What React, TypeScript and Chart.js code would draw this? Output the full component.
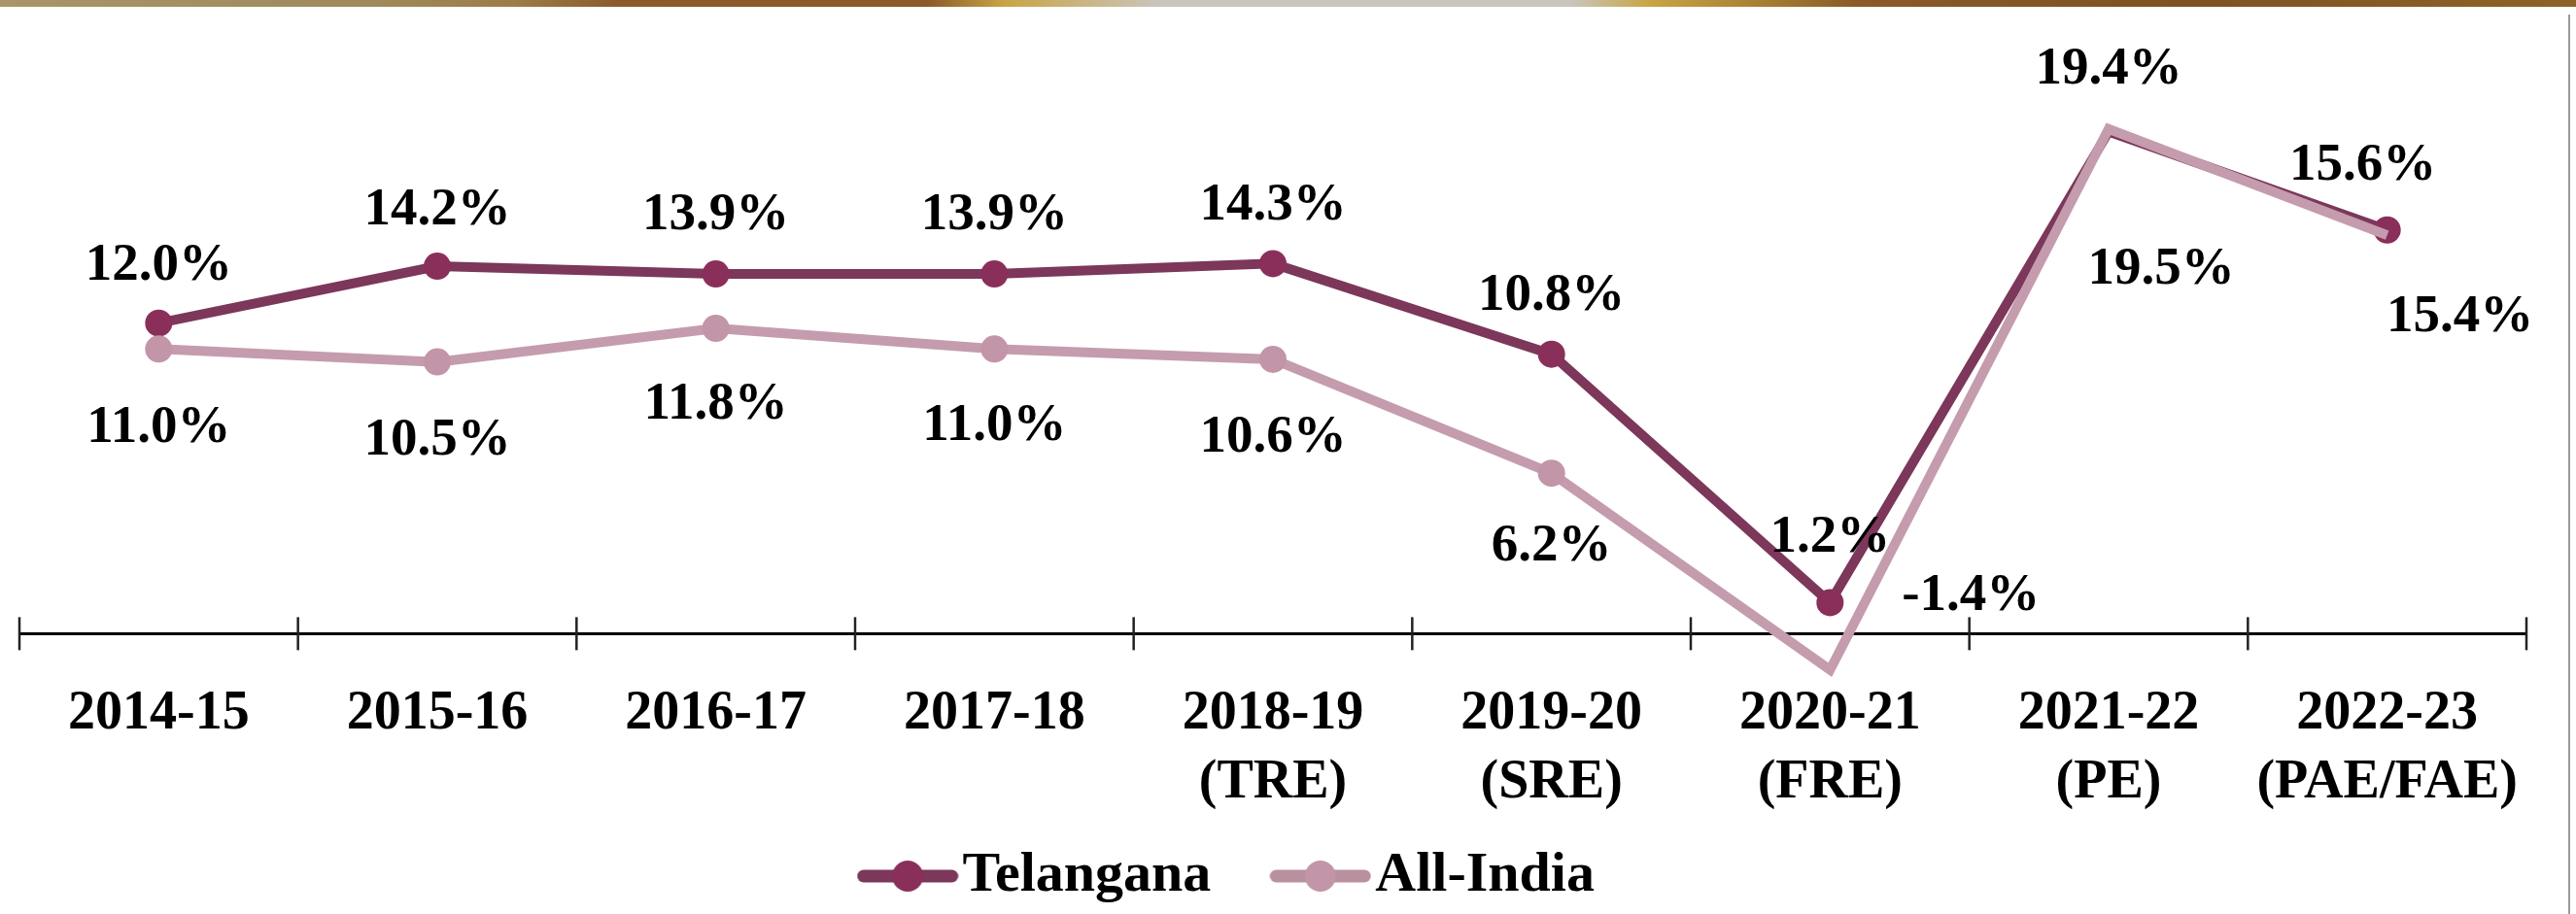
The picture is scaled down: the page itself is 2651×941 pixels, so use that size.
import React, { useEffect, useRef } from "react";
import { Chart, registerables } from "chart.js";

Chart.register(...registerables);

// ---- data ----
const categories: (string | string[])[] = [
  "2014-15",
  "2015-16",
  "2016-17",
  "2017-18",
  ["2018-19", "(TRE)"],
  ["2019-20", "(SRE)"],
  ["2020-21", "(FRE)"],
  ["2021-22", "(PE)"],
  ["2022-23", "(PAE/FAE)"],
];
const telangana = [12.0, 14.2, 13.9, 13.9, 14.3, 10.8, 1.2, 19.4, 15.6];
const allIndia = [11.0, 10.5, 11.8, 11.0, 10.6, 6.2, -1.4, 19.5, 15.4];
const seriesNames = ["Telangana", "All-India"];

// ---- styles ----
const FONT = "'Liberation Serif', 'Times New Roman', serif";
const TEL_LINE = "#7c375a";
const TEL_DOT = "#8a2f5a";
const ALL_LINE = "#c49cad";
const ALL_DOT = "#c295a8";
const telRadius = [14, 14, 14, 14, 14, 14, 14, 0, 14];
const allRadius = [14, 14, 14, 14, 14, 14, 0, 0, 0];
// label placement relative to each point (px)
const telLabelOffset: [number, number][] = [
  [0, -59], [0, -57], [0, -60], [0, -60], [0, -60], [0, -60], [0, -67], [0, -64], [-25, -66],
];
const allLabelOffset: [number, number][] = [
  [0, 81], [0, 81], [0, 79], [0, 79], [0, 81], [0, 76], [145, -76], [54, 145], [75, 85],
];

function makeLegendIcon(lineColor: string, dotColor: string) {
  const c = document.createElement("canvas");
  c.width = 105;
  c.height = 36;
  const g = c.getContext("2d")!;
  g.strokeStyle = lineColor;
  g.lineWidth = 13;
  g.lineCap = "round";
  g.beginPath();
  g.moveTo(7, 18);
  g.lineTo(98, 18);
  g.stroke();
  g.fillStyle = dotColor;
  g.beginPath();
  g.arc(52.5, 18, 16, 0, Math.PI * 2);
  g.fill();
  return c;
}

const crossTicks = {
  id: "crossTicks",
  beforeDatasetsDraw(chart: any) {
    const xs = chart.scales.x;
    const ys = chart.scales.y;
    const y0 = ys.getPixelForValue(0);
    const step = xs.getPixelForValue(1) - xs.getPixelForValue(0);
    const ctx = chart.ctx;
    ctx.save();
    ctx.strokeStyle = "#222";
    ctx.lineWidth = 2.5;
    for (let i = 0; i <= categories.length; i++) {
      const x = xs.getPixelForValue(0) + (i - 0.5) * step;
      ctx.beginPath();
      ctx.moveTo(x, y0 - 17);
      ctx.lineTo(x, y0 + 17);
      ctx.stroke();
    }
    ctx.restore();
  },
};

const valueLabels = {
  id: "valueLabels",
  afterDatasetsDraw(chart: any) {
    const ctx = chart.ctx;
    ctx.save();
    ctx.font = `bold 55px ${FONT}`;
    ctx.fillStyle = "#000";
    ctx.textAlign = "center";
    ctx.textBaseline = "middle";
    const offsets = [telLabelOffset, allLabelOffset];
    chart.data.datasets.forEach((ds: any, di: number) => {
      const meta = chart.getDatasetMeta(di);
      meta.data.forEach((pt: any, i: number) => {
        const v = ds.data[i] as number;
        const [dx, dy] = offsets[di][i];
        ctx.fillText(v.toFixed(1) + "%", pt.x + dx, pt.y + dy);
      });
    });
    ctx.restore();
  },
};

export default function App() {
  const ref = useRef<HTMLCanvasElement>(null);

  useEffect(() => {
    const canvas = ref.current;
    if (!canvas) return;
    const icons = [makeLegendIcon(TEL_LINE, TEL_DOT), makeLegendIcon("#b9909f", ALL_DOT)];
    // trailing spaces keep the centred legend slightly left, as in the source
    const legendText = [seriesNames[0], seriesNames[1] + "     "];
    const chart = new Chart(canvas, {
      type: "line",
      data: {
        labels: categories as any,
        datasets: [
          {
            label: seriesNames[0],
            data: telangana,
            borderColor: TEL_LINE,
            backgroundColor: TEL_DOT,
            pointBackgroundColor: TEL_DOT,
            pointBorderWidth: 0,
            pointRadius: telRadius,
            borderWidth: 10,
            tension: 0,
            order: 1,
          },
          {
            label: seriesNames[1],
            data: allIndia,
            borderColor: ALL_LINE,
            backgroundColor: ALL_DOT,
            pointBackgroundColor: ALL_DOT,
            pointBorderWidth: 0,
            pointRadius: allRadius,
            borderWidth: 10,
            tension: 0,
            order: 0,
          },
        ],
      },
      options: {
        responsive: false,
        animation: false,
        devicePixelRatio: 1,
        layout: { padding: { left: 20, right: 51, top: 0, bottom: 0 } },
        scales: {
          x: {
            type: "category",
            position: { y: 0 } as any,
            offset: true,
            grid: { display: false },
            border: { display: true, color: "#000", width: 3 },
            ticks: {
              color: "#000",
              padding: 39,
              maxRotation: 0,
              autoSkip: false,
              font: { family: FONT, size: 56, weight: "bold", lineHeight: 1.28 },
            },
          },
          y: {
            display: false,
            min: -5.09,
            max: 23.96,
          },
        },
        plugins: {
          tooltip: { enabled: false },
          legend: {
            position: "bottom",
            align: "center",
            labels: {
              usePointStyle: true,
              pointStyleWidth: 55,
              padding: 85,
              color: "#000",
              font: { family: FONT, size: 58, weight: "bold" },
              generateLabels: (ch: any) =>
                ch.data.datasets.map((ds: any, i: number) => ({
                  text: legendText[i],
                  pointStyle: icons[i],
                  fillStyle: "transparent",
                  strokeStyle: "transparent",
                  lineWidth: 0,
                  hidden: false,
                  datasetIndex: i,
                  fontColor: "#000",
                })),
            },
          },
        },
      },
      plugins: [crossTicks, valueLabels],
    });
    return () => chart.destroy();
  }, []);

  return (
    <div
      style={{
        position: "fixed",
        left: 0,
        top: 0,
        width: 2651,
        height: 941,
        background: "#fff",
        overflow: "hidden",
      }}
    >
      <canvas ref={ref} width={2651} height={941} style={{ display: "block" }} />
      <div
        style={{
          position: "absolute",
          left: 0,
          top: 0,
          width: "100%",
          height: 7,
          background:
            "linear-gradient(90deg, #a8956a 0%, #a08a5c 14%, #9c7c48 20%, #8b5a2a 24%, #8a5a28 36%, #c9a545 39%, #c9c5bd 45%, #c9c5bd 61%, #c9a545 64%, #a07a30 69%, #8a5a28 72%, #7e5223 85%, #8f6326 100%)",
        }}
      />
      <div
        style={{
          position: "absolute",
          left: 2643,
          top: 15,
          width: 2,
          bottom: 0,
          background: "#9a9a9a",
        }}
      />
    </div>
  );
}
